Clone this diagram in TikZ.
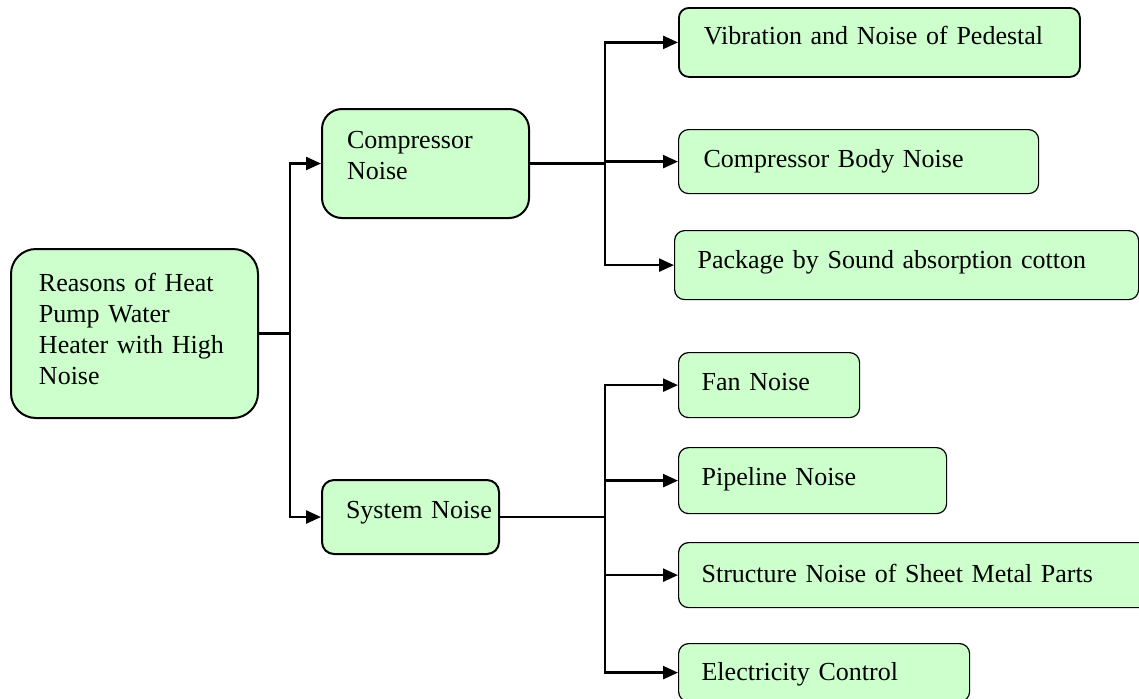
\documentclass[tikz,border=0pt]{standalone}
\usepackage{fontspec}
\setmainfont{Liberation Serif}
\usepackage{xcolor}
\definecolor{NoiseGreen}{HTML}{CCFFCC}
\definecolor{NoiseBlack}{HTML}{000000}
\usetikzlibrary{arrows.meta}
\tikzset{
    % Text for all nodes
    every node/.style={font=\fontsize{13pt}{15.5pt}\selectfont},
    % Root cause box
    reason/.style={
        rectangle,
        rounded corners=12.5pt,
        draw=NoiseBlack,
        fill=NoiseGreen,
        line width=1pt,
        anchor=north west,
        align=left,
        inner ysep=0pt,
        inner xsep=14pt
    },
    % Noise source box
    source/.style={
        rectangle,
        rounded corners=8pt,
        draw=NoiseBlack,
        fill=NoiseGreen,
        line width=1pt,
        anchor=north west,
        align=left,
        inner ysep=0pt,
        inner xsep=12.5pt,
        text height=19pt
    },
    % Detail box
    detail/.style={
        rectangle,
        rounded corners=5pt,
        draw=NoiseBlack,
        fill=NoiseGreen,
        line width=0.6pt,
        anchor=north west,
        align=left,
        inner ysep=0pt,
        inner xsep=12pt,
        text height=19pt
    },
    % Plain connector
    link/.style={
        line width=1.2pt,
        color=NoiseBlack
    },
    % Arrow style
    arrow/.style={
        -{Triangle[length=7.5pt,width=6.5pt]},
        line width=1.2pt,
        color=NoiseBlack
    }
}
\begin{document}
\begin{tikzpicture}[x=0.5pt, y=-0.5pt]
        \useasboundingbox (0,0) rectangle (1139,698);

        % Root
        \node (root) [reason, text width=95.5pt, text height=21pt, text depth=63.5pt] at (10,248)
            {Reasons of Heat\\ Pump Water\\ Heater with High\\ Noise};

        % Noise sources
        \node (comp) [source, rounded corners=10pt, text width=78.5pt, text height=19.5pt, text depth=35pt] at (321,108)
            {Compressor\\ Noise};
        \node (sys) [source, rounded corners=6pt, inner xsep=12pt, text width=64.5pt, text depth=18pt] at (321,479)
            {System~Noise};

        % Compressor details
        \node (vib) [detail, line width=0.9pt, inner xsep=12.5pt, text width=175.5pt, text height=18.5pt, text depth=16pt] at (678,7)
            {Vibration and Noise of Pedestal};
        \node (body) [detail, inner xsep=12.5pt, text width=155pt, text depth=13pt] at (678,129)
            {Compressor Body Noise};
        \node (pack) [detail, inner xsep=11.5pt, text width=209pt, text depth=15.5pt] at (674,230)
            {Package by Sound absorption cotton};

        % System details
        \node (fan) [detail, inner xsep=11.5pt, text width=67.5pt, text depth=13.5pt] at (678,352)
            {Fan Noise};
        \node (pipe) [detail, inner xsep=11.5pt, text width=111pt, text depth=14pt] at (678,447)
            {Pipeline Noise};
        \node (sheet) [detail, inner xsep=11.5pt, text width=218pt, text height=20pt, text depth=12.5pt] at (678,542)
            {Structure Noise of Sheet Metal Parts};
        \node (elec) [detail, inner xsep=11.5pt, text width=122.5pt, text height=18.5pt, text depth=10.5pt] at (678,643)
            {Electricity Control};

        % Bus points
        \coordinate (rootbus) at ([xshift=15.5pt]root.east);
        \coordinate (compbus) at ([xshift=37.5pt]comp.east);
        \coordinate (sysbus) at ([xshift=52.5pt]sys.east);

        % Connectors
        \draw [link] (root.east) -- (rootbus);
        \draw [arrow] (rootbus) |- (comp.west);
        \draw [arrow] (rootbus) |- (sys.west);

        \draw [link] (comp.east) -- (compbus);
        \draw [arrow] (compbus) |- (vib.west);
        \draw [arrow] (compbus) |- (body.west);
        \draw [arrow] (compbus) |- (pack.west);

        \draw [link] (sys.east) -- (sysbus);
        \draw [arrow] (sysbus) |- (fan.west);
        \draw [arrow] (sysbus) |- (pipe.west);
        \draw [arrow] (sysbus) |- (sheet.west);
        \draw [arrow] (sysbus) |- (elec.west);
\end{tikzpicture}
\end{document}
